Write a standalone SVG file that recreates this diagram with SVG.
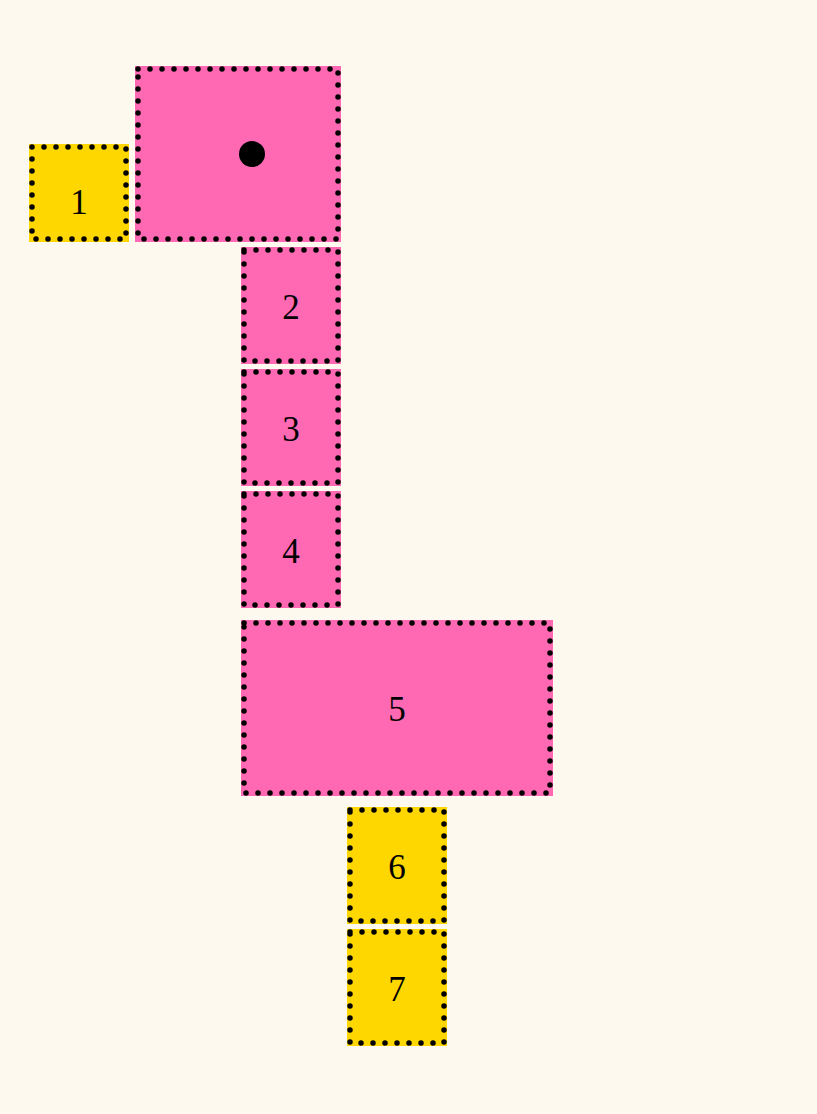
<svg xmlns="http://www.w3.org/2000/svg" width="817" height="1114" viewBox="0 0 817 1114">
<style>
.bg{fill:#fef9ee}
.pink{fill:#ff69b4}
.gold{fill:#ffd700}
.bd{fill:none;stroke:#000;stroke-width:5.5;stroke-linecap:round;stroke-dasharray:0 12}
.lbl{font-family:"Liberation Serif","Times New Roman",serif;font-size:35px;fill:#000;text-anchor:middle}
</style>
<rect class="bg" x="0" y="0" width="817" height="1114"/>
<g id="connectors"/>
<g id="node-top">
<rect class="pink" x="135" y="66" width="206" height="176"/>
<rect class="bd" x="138" y="69" width="200" height="170"/>
<circle cx="252" cy="154" r="13" fill="#000"/>
</g>
<g id="node-1">
<rect class="gold" x="29" y="144" width="100" height="98"/>
<rect class="bd" x="32" y="147" width="94" height="92"/>
<text class="lbl" x="79" y="214">1</text>
</g>
<g id="node-2">
<rect class="pink" x="241" y="247" width="100" height="117"/>
<rect class="bd" x="244" y="250" width="94" height="111"/>
<text class="lbl" x="291" y="319">2</text>
</g>
<g id="node-3">
<rect class="pink" x="241" y="369" width="100" height="117"/>
<rect class="bd" x="244" y="372" width="94" height="111"/>
<text class="lbl" x="291" y="441">3</text>
</g>
<g id="node-4">
<rect class="pink" x="241" y="491" width="100" height="117"/>
<rect class="bd" x="244" y="494" width="94" height="111"/>
<text class="lbl" x="291" y="563">4</text>
</g>
<g id="node-5">
<rect class="pink" x="241" y="620" width="312" height="176"/>
<rect class="bd" x="244" y="623" width="306" height="170"/>
<text class="lbl" x="397" y="721">5</text>
</g>
<g id="node-6">
<rect class="gold" x="347" y="807" width="100" height="117"/>
<rect class="bd" x="350" y="810" width="94" height="111"/>
<text class="lbl" x="397" y="879">6</text>
</g>
<g id="node-7">
<rect class="gold" x="347" y="929" width="100" height="117"/>
<rect class="bd" x="350" y="932" width="94" height="111"/>
<text class="lbl" x="397" y="1001">7</text>
</g>
</svg>
